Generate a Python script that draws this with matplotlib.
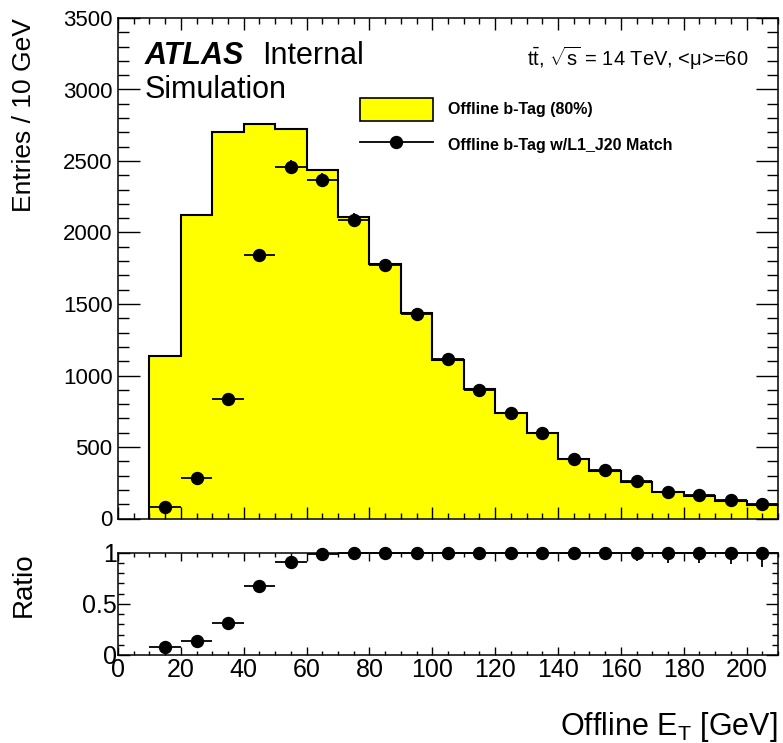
import numpy as np
import matplotlib
matplotlib.use("Agg")
import matplotlib.pyplot as plt
from matplotlib.patches import Patch
from matplotlib.lines import Line2D
from matplotlib.ticker import MultipleLocator, FixedLocator, FuncFormatter

plt.rcParams['font.family'] = ['Liberation Sans', 'DejaVu Sans']
plt.rcParams['mathtext.fontset'] = 'custom'
plt.rcParams['mathtext.rm'] = 'Liberation Sans'
plt.rcParams['mathtext.it'] = 'Liberation Sans:italic'
plt.rcParams['mathtext.bf'] = 'Liberation Sans:bold'

# ---- data ----
bin_edges = [10, 20, 30, 40, 50, 60, 70, 80, 90, 100, 110, 120, 130, 140, 150,
             160, 170, 180, 190, 200, 210]
offline_btag = [1134, 2120, 2704, 2757, 2727, 2437, 2110, 1779, 1438, 1111,
                905, 741, 601, 415, 335, 258, 183, 160, 123, 95]
matched_l1j20 = [83, 282, 837, 1840, 2458, 2365, 2087, 1772, 1433, 1113,
                 902, 739, 599, 415, 337, 260, 184, 162, 126, 98]
matched_err = [9, 17, 29, 43, 50, 49, 46, 42, 38, 33,
               30, 27, 24, 20, 18, 16, 14, 13, 11, 10]
ratio = [0.081, 0.14, 0.316, 0.674, 0.906, 0.984, 0.995, 1.0, 1.0, 1.0,
         1.0, 1.0, 1.0, 1.0, 1.0, 1.0, 1.0, 1.0, 1.0, 1.0]
ratio_err_low = [0.01, 0.01, 0.015, 0.015, 0.01, 0.008, 0.008, 0.01, 0.01, 0.012,
                 0.015, 0.025, 0.035, 0.07, 0.075, 0.085, 0.1, 0.1, 0.115, 0.135]
main_yticks = [0, 500, 1000, 1500, 2000, 2500, 3000, 3500]
ratio_yticks = [0, 0.5, 1]
x_ticks = [0, 20, 40, 60, 80, 100, 120, 140, 160, 180, 200]

edges = np.array(bin_edges, dtype=float)
centers = 0.5 * (edges[1:] + edges[:-1])
halfw = 0.5 * (edges[1:] - edges[:-1])
ratio_err = [ratio_err_low, [0.0] * len(ratio)]

W, H = 783, 743
fig = plt.figure(figsize=(W / 100, H / 100), dpi=100)
ax = fig.add_axes([118 / W, 224.5 / H, 660 / W, 500.5 / H])
rax = fig.add_axes([118 / W, 88 / H, 660 / W, 102.3 / H])

yellow = '#ffff00'
# main panel
ax.stairs(offline_btag, edges, baseline=0, fill=True, facecolor=yellow,
          edgecolor='none', zorder=1)
ax.stairs(offline_btag, edges, baseline=0, fill=False, color='k', lw=1.5, zorder=2)
ax.errorbar(centers, matched_l1j20, xerr=halfw, yerr=matched_err, fmt='o',
            color='k', ms=8.6, elinewidth=1.3, capsize=0, zorder=3)
ax.set_xlim(0, 210)
ax.set_ylim(0, 3500)
ax.yaxis.set_major_locator(FixedLocator(main_yticks))
ax.yaxis.set_minor_locator(MultipleLocator(100))
ax.xaxis.set_major_locator(FixedLocator(x_ticks))
ax.xaxis.set_minor_locator(MultipleLocator(5))
ax.tick_params(direction='in', top=True, right=True, labelbottom=False,
               labelsize=16, width=1.0)
ax.tick_params(axis='y', which='major', length=15.8, pad=4)
ax.tick_params(axis='y', which='minor', length=7.9, width=1.0)
ax.tick_params(axis='x', which='major', length=8.6)
ax.tick_params(axis='x', which='minor', length=4.3, width=1.0)
ax.tick_params(which='minor', direction='in', top=True, right=True)
for s in ax.spines.values():
    s.set_linewidth(1.1)

# ratio panel
rax.errorbar(centers, ratio, xerr=halfw, yerr=ratio_err, fmt='o', color='k',
             ms=8.6, elinewidth=1.3, capsize=0, clip_on=False, zorder=3)
rax.set_xlim(0, 210)
rax.set_ylim(0, 1.0)
rax.yaxis.set_major_locator(FixedLocator(ratio_yticks))
rax.yaxis.set_minor_locator(MultipleLocator(0.1))
rax.yaxis.set_major_formatter(FuncFormatter(lambda v, p: '%g' % v))
rax.xaxis.set_major_locator(FixedLocator(x_ticks))
rax.xaxis.set_minor_locator(MultipleLocator(5))
rax.tick_params(direction='in', top=True, right=True, labelsize=18, width=1.0)
rax.tick_params(which='minor', direction='in', top=True, right=True, width=1.0)
rax.tick_params(axis='y', which='major', length=8.6, pad=1)
rax.tick_params(axis='y', which='minor', length=4.3)
rax.tick_params(axis='x', which='major', length=5.8, pad=2)
rax.tick_params(axis='x', which='minor', length=2.9)
for s in rax.spines.values():
    s.set_linewidth(1.1)

# labels
fig.text(24 / W, 1 - 18 / H, 'Entries / 10 GeV', rotation=90, ha='center',
         va='top', fontsize=19)
fig.text(24 / W, 1 - 552 / H, 'Ratio', rotation=90, ha='center', va='top',
         fontsize=20)
fig.text(778 / W, 8 / H, r'Offline E$_{\mathrm{T}}$ [GeV]', ha='right',
         va='baseline', fontsize=22)

fig.text(145 / W, 1 - 64 / H, 'ATLAS', fontsize=22, fontweight='bold',
         fontstyle='italic', ha='left', va='baseline')
fig.text(262 / W, 1 - 64 / H, 'Internal', fontsize=22, ha='left', va='baseline')
fig.text(145 / W, 1 - 98 / H, 'Simulation', fontsize=22, ha='left', va='baseline')
fig.text(748 / W, 1 - 66 / H,
         r't$\bar{\mathrm{t}}$, $\sqrt{\mathrm{s}}$ = 14 TeV, <μ>=60',
         ha='right', va='baseline', fontsize=14.5)

handles = [Patch(facecolor=yellow, edgecolor='k', linewidth=1.2),
           Line2D([], [], color='k', marker='o', ms=8.6, lw=1.3)]
labels = ['Offline b-Tag (80%)', 'Offline b-Tag w/L1_J20 Match']
ax.legend(handles, labels, loc='upper left',
          bbox_to_anchor=(360 / W, 1 - 98 / H), bbox_transform=fig.transFigure,
          frameon=False, borderpad=0, borderaxespad=0, handlelength=4.56,
          handleheight=1.8, handletextpad=0.95, labelspacing=0.8,
          prop=dict(family='Liberation Sans', weight='bold', size=11.5))

fig.savefig('out.png', dpi=100)
